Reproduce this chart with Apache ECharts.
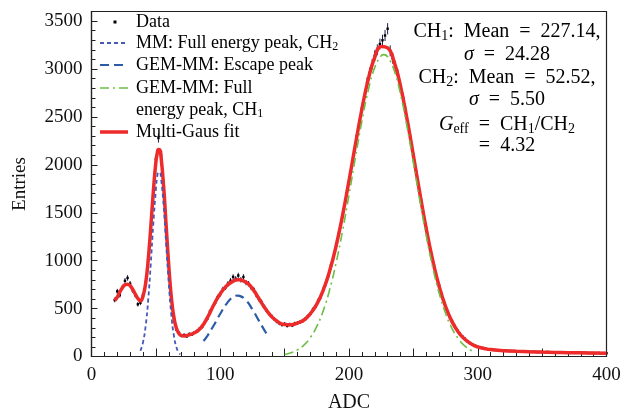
<!DOCTYPE html>
<html><head><meta charset="utf-8">
<script src="https://cdn.jsdelivr.net/npm/echarts@6/dist/echarts.min.js"></script>
<style>html,body{margin:0;padding:0;background:#fff}#c{width:622px;height:410px}</style>
</head><body><div id="c"></div><script>
const dataADC = [18,20,22,24,26,28,30,32,34,36,38,40,42,44,46,48,50,52,54,56,58,60,62,64,66,68,70,72,74,76,78,80,82,84,86,88,90,92,94,96,98,100,102,104,106,108,110,112,114,116,118,120,122,124,126,128,130,132,134,136,138,140,142,144,146,148,150,152,154,156,158,160,162,164,166,168,170,172,174,176,178,180,182,184,186,188,190,192,194,196,198,200,202,204,206,208,210,212,214,216,218,220,222,224,226,228,230,232,234,236,238,240,242,244,246,248,250,252,254,256,258,260,262,264,266,268,270,272,274,276,278,280,282,284,286,288,290,292,294,296,298,300,302,304,306,308,310,312,314,316,318,320,322,324,326,328,330,332,334,336,338,340,342,344,346,348,350,352,354,356,358,360,362,364,366,368,370,372,374,376,378,380,382,384,386,388,390,392,394,396,398,400];
const dataEntries = [590,680,640,720,790,820,760,690,640,545,
560,640,770,1010,1330,1720,2060,2280,2100,1790,
1350,960,610,400,280,245,215,225,210,235,
230,250,265,290,310,355,395,470,515,560,
620,650,700,720,760,790,830,810,845,800,
830,770,760,720,700,640,600,570,520,480,
445,420,390,365,345,330,340,320,335,325,
345,350,360,370,390,420,445,490,520,580,
620,700,760,840,950,1040,1160,1280,1410,1540,
1700,1830,1990,2140,2300,2430,2590,2710,2860,2960,
3050,3140,3200,3260,3300,3350,3420,3190,3110,3030,
2940,2830,2700,2560,2410,2260,2110,1940,1790,1630,
1480,1340,1200,1070,950,840,740,650,560,490,
420,370,320,275,240,210,185,160,140,125,
112,100,95,88,82,76,72,68,66,64,
62,60,62,58,56,57,55,54,52,53,
50,50,48,49,47,46,46,45,47,44,
43,43,44,41,42,40,40,39,41,38,
38,38,37,39,36,36,36,35,37,34,
35,34];
const fitADC = [18,20,22,24,26,28,30,32,34,36,38,40,42,44,46,48,50,51,52,53,54,56,58,60,62,64,66,68,70,72,75,80,85,90,95,100,105,110,114,118,122,126,130,135,140,145,150,155,160,165,170,175,180,185,190,195,200,205,210,215,220,225,230,235,240,245,250,255,260,265,270,275,280,285,290,295,300,305,310,320,330,340,350,360,370,380,390,400];
const fitEntries = [585,620,672,718,748,755,738,700,652,606,580,630,760,1000,1340,1715,2030,2115,2160,2158,2085,1780,1360,950,620,408,292,238,218,215,222,248,300,405,540,655,738,787,800,790,755,690,605,500,415,360,333,331,349,381,446,546,693,894,1155,1472,1834,2213,2580,2895,3122,3236,3221,3077,2822,2483,2099,1705,1333,1005,733,521,364,254,180,131,100,84,72,61,55,50,46,43,40,38,36,34];
const mmADC = [38,40,42,44,46,48,50,51,52,53,54,56,58,60,62,64,66,68,69];
const mmEntries = [60,148,313,585,960,1382,1741,1875,1922,1922,1859,1577,1171,762,434,217,95,36,25];
const escADC = [87,90,95,100,105,110,113.5,115,120,125,130,135,137.5];
const escEntries = [161,216,326,446,552,621,636,633,586,491,374,258,207];
const ch1ADC = [150,155,160,165,170,175,180,185,190,195,200,205,210,215,220,225,227,230,235,240,245,250,255,260,265,270,275,280,285,290,295,297];
const ch1Entries = [20,38,69,119,198,314,478,699,978,1312,1687,2078,2455,2780,3017,3138,3150,3128,2989,2738,2403,2022,1631,1261,934,663,451,294,184,110,63,50];
const xTickLabels = [0,100,200,300,400];
const yTickLabels = [0,500,1000,1500,2000,2500,3000,3500];

const FONT = 'Liberation Serif';
const C_RED = '#ee2a2a', C_MM = '#4658b5', C_ESC = '#2b5ca8', C_CH1 = '#6bbf45';
const pairs = (xs, ys) => xs.map((x, i) => [x, ys[i]]);

const chart = echarts.init(document.getElementById('c'), null, {renderer: 'canvas'});
const grid = {left: 91.5, right: 15.5, top: 11.5, bottom: 53.5, containLabel: false, outerBoundsMode: 'none',
  show: true, borderColor: '#222', borderWidth: 1.2, backgroundColor: 'transparent'};
const axBase = {min: 0, axisLine: {show: true, onZero: false, lineStyle: {color: '#222', width: 1.2}}, splitLine: {show: false}};

function richSet(fs, lh) {
  const ss = Math.round(fs * 0.68);
  return {
    t: {fontFamily: FONT, fontSize: fs, lineHeight: lh, color: '#111'},
    i: {fontFamily: FONT, fontSize: fs, lineHeight: lh, fontStyle: 'italic', color: '#111'},
    s: {fontFamily: FONT, fontSize: ss, lineHeight: ss, verticalAlign: 'bottom', color: '#111'}
  };
}

const graphics = [];
// legend samples
graphics.push({type: 'rect', shape: {x: 113.5, y: 20.5, width: 3, height: 3}, style: {fill: '#000'}, z: 100});
graphics.push({type: 'line', shape: {x1: 100, y1: 43, x2: 128, y2: 43}, style: {stroke: C_MM, lineWidth: 1.8, lineDash: [4, 3]}, z: 100});
graphics.push({type: 'line', shape: {x1: 100, y1: 65, x2: 128, y2: 65}, style: {stroke: C_ESC, lineWidth: 2.2, lineDash: [9, 5]}, z: 100});
graphics.push({type: 'line', shape: {x1: 100, y1: 88, x2: 128, y2: 88}, style: {stroke: C_CH1, lineWidth: 1.6, lineDash: [9, 4, 2, 4]}, z: 100});
graphics.push({type: 'line', shape: {x1: 100, y1: 132, x2: 128, y2: 132}, style: {stroke: C_RED, lineWidth: 3.5}, z: 100});
const legTexts = [
  ['{t|Data}', 22],
  ['{t|MM: Full energy peak, CH}{s|2}', 43],
  ['{t|GEM-MM: Escape peak}', 65],
  ['{t|GEM-MM: Full}', 88],
  ['{t|energy peak, CH}{s|1}', 110],
  ['{t|Multi-Gaus fit}', 132]
];
legTexts.forEach(([txt, y]) => {
  graphics.push({type: 'text', x: 136, y: y, z: 100, style: {text: txt, rich: richSet(18, 20), align: 'left', verticalAlign: 'middle'}});
});
// annotation
const E = '\u2002=\u2002';
const annLines = [
  ['{t|CH}{s|1}{t|:\u2002Mean' + E + '227.14,}', 32],
  ['{i|σ}{t|' + E + '24.28}', 55],
  ['{t|CH}{s|2}{t|:\u2002Mean' + E + '52.52,}', 78],
  ['{i|σ}{t|' + E + '5.50}', 100],
  ['{i|G}{s|eff}{t|' + E + 'CH}{s|1}{t|/CH}{s|2}', 125],
  ['{t|=\u20024.32}', 146]
];
annLines.forEach(([txt, y]) => {
  graphics.push({type: 'text', x: 507, y: y, z: 100, style: {text: txt, rich: richSet(20, 22), align: 'center', verticalAlign: 'middle'}});
});

const option = {
  animation: false,
  backgroundColor: '#fff',
  grid: grid,
  xAxis: [
    Object.assign({}, axBase, {type: 'value', max: 400, interval: 50, name: 'ADC', nameLocation: 'middle', nameGap: 36,
      nameTextStyle: {fontFamily: FONT, fontSize: 20, color: '#111'},
      axisTick: {show: true, inside: true, length: 8, lineStyle: {color: '#222', width: 1}},
      axisLabel: {margin: 9, fontFamily: FONT, fontSize: 19, color: '#111', formatter: v => xTickLabels.includes(v) ? String(v) : ''}}),
    Object.assign({}, axBase, {type: 'value', max: 400, interval: 10, position: 'bottom', axisLine: {show: false},
      axisTick: {show: true, inside: true, length: 4.5, lineStyle: {color: '#222', width: 1}}, axisLabel: {show: false}})
  ],
  yAxis: [
    Object.assign({}, axBase, {type: 'value', max: 3600, interval: 500, name: 'Entries', nameLocation: 'middle', nameGap: 62,
      nameTextStyle: {fontFamily: FONT, fontSize: 19, color: '#111'},
      axisTick: {show: true, inside: true, length: 6, lineStyle: {color: '#222', width: 1}},
      axisLabel: {margin: 9, fontFamily: FONT, fontSize: 19, color: '#111', showMaxLabel: false, formatter: v => yTickLabels.includes(v) ? String(v) : ''}}),
    Object.assign({}, axBase, {type: 'value', max: 3600, interval: 100, position: 'left', offset: 0, axisLine: {show: false},
      axisTick: {show: true, inside: true, length: 4, lineStyle: {color: '#222', width: 1}}, axisLabel: {show: false}})
  ],
  series: [
    {type: 'custom', name: 'Data', xAxisIndex: 0, yAxisIndex: 0, z: 2, data: pairs(dataADC, dataEntries),
      renderItem: function (params, api) {
        const x = api.value(0), y = api.value(1), e = Math.sqrt(y);
        const a = api.coord([x, y - e]), b = api.coord([x, y + e]), c = api.coord([x, y]);
        return {type: 'group', children: [
          {type: 'line', shape: {x1: a[0], y1: a[1], x2: b[0], y2: b[1]}, style: {stroke: '#1c1c48', lineWidth: 1}},
          {type: 'rect', shape: {x: c[0] - 1.2, y: c[1] - 1.2, width: 2.4, height: 2.4}, style: {fill: '#000'}}
        ]};
      }},
    {type: 'line', name: 'Multi-Gaus fit', z: 3, data: pairs(fitADC, fitEntries), showSymbol: false, smooth: true,
      lineStyle: {color: C_RED, width: 3.5}},
    {type: 'line', name: 'MM', z: 4, data: pairs(mmADC, mmEntries), showSymbol: false, smooth: true,
      lineStyle: {color: C_MM, width: 1.8, type: [4, 3]}},
    {type: 'line', name: 'Escape', z: 4, data: pairs(escADC, escEntries), showSymbol: false, smooth: true,
      lineStyle: {color: C_ESC, width: 2.2, type: [9, 5]}},
    {type: 'line', name: 'CH1', z: 4, data: pairs(ch1ADC, ch1Entries), showSymbol: false, smooth: true,
      lineStyle: {color: C_CH1, width: 1.6, type: [9, 4, 2, 4]}}
  ],
  graphic: graphics
};
chart.setOption(option);
</script></body></html>
